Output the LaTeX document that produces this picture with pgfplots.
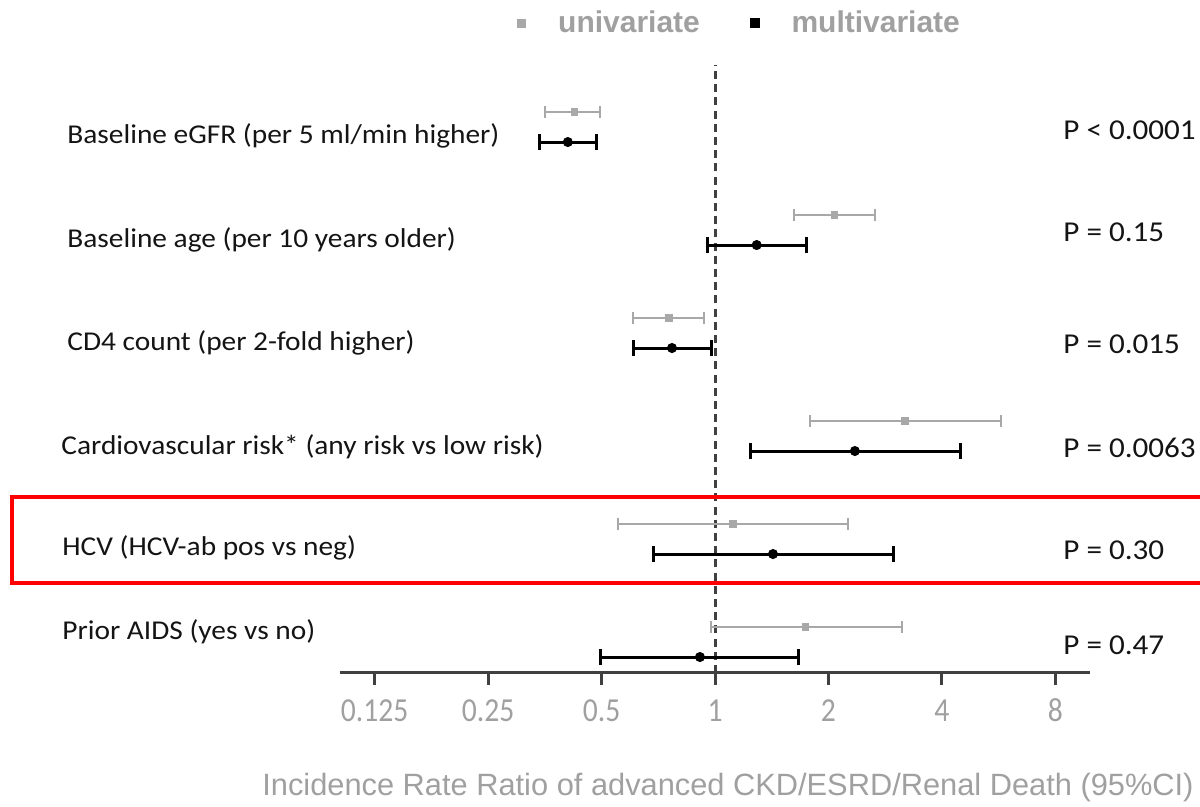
\documentclass[border=0pt]{standalone}
\usepackage{fontspec}
\setmainfont{Carlito}
\newfontfamily\labf[FakeStretch=1.08]{Carlito}
\newfontfamily\arialf{Liberation Sans}
\newfontfamily\xlabf{Liberation Sans}
\newfontfamily\tickf[FakeStretch=0.88]{Carlito}
\usepackage{pgfplots}
\pgfplotsset{compat=1.18}
\definecolor{ugray}{HTML}{A8A8A8}
\definecolor{tgray}{HTML}{A0A0A0}
\definecolor{axgray}{HTML}{404040}
\begin{document}
\begin{tikzpicture}
\useasboundingbox (0pt,0pt) rectangle (600pt,403.5pt);
\begin{axis}[
  at={(170pt,67pt)}, anchor=south west,
  width=375pt, height=304pt, scale only axis,
  xmode=log, log basis x=2,
  xmin=0.1012, xmax=9.88,
  ymin=-6.301, ymax=-0.398,
  axis x line*=bottom, axis y line=none,
  xtick={0.125,0.25,0.5,1,2,4,8},
  xticklabels={0.125,0.25,0.5,1,2,4,8},
  typeset ticklabels with strut,
  xminorticks=false,
  tick align=outside, major tick length=6pt,
  x tick style={line width=1.5pt, color=axgray},
  x axis line style={line width=1.5pt, color=axgray},
  x tick label style={font=\tickf\fontsize{16.8}{18}\selectfont, text=tgray, yshift=-2pt},
  clip=false,
  legend columns=2,
  legend style={draw=none, fill=none, at={(0.236,1.069)}, anchor=west,
    inner sep=0pt, nodes={inner sep=0pt, font=\arialf\bfseries\fontsize{15}{16}\selectfont, text=tgray},
    /tikz/every odd column/.append style={column sep=16pt},
    /tikz/every even column/.append style={column sep=25pt}},
]
\addlegendimage{legend image code/.code={\fill[ugray] (0pt,-2pt) rectangle (4pt,2pt);}}
\addlegendentry{univariate}
\addlegendimage{legend image code/.code={\fill[black] (0pt,-2.2pt) rectangle (4.4pt,2.2pt);}}
\addlegendentry{multivariate}

% reference line
\addplot[forget plot, axgray, line width=1.5pt, dash pattern=on 4pt off 2.6pt] coordinates {(1,-6.301) (1,-0.398)};

% univariate CIs
\addplot[forget plot, ugray, line width=1pt, mark=|, mark size=3pt] coordinates {(0.354,-0.854) (0.496,-0.854)};
\addplot[forget plot, ugray, line width=1pt, mark=|, mark size=3pt] coordinates {(1.62,-1.854) (2.66,-1.854)};
\addplot[forget plot, ugray, line width=1pt, mark=|, mark size=3pt] coordinates {(0.606,-2.854) (0.935,-2.854)};
\addplot[forget plot, ugray, line width=1pt, mark=|, mark size=3pt] coordinates {(1.79,-3.854) (5.74,-3.854)};
\addplot[forget plot, ugray, line width=1pt, mark=|, mark size=3pt] coordinates {(0.553,-4.854) (2.25,-4.854)};
\addplot[forget plot, ugray, line width=1pt, mark=|, mark size=3pt] coordinates {(0.975,-5.854) (3.13,-5.854)};
% multivariate CIs
\addplot[forget plot, black, line width=1.5pt, mark=|, mark size=3.8pt] coordinates {(0.343,-1.146) (0.486,-1.146)};
\addplot[forget plot, black, line width=1.5pt, mark=|, mark size=3.8pt] coordinates {(0.958,-2.146) (1.75,-2.146)};
\addplot[forget plot, black, line width=1.5pt, mark=|, mark size=3.8pt] coordinates {(0.606,-3.146) (0.976,-3.146)};
\addplot[forget plot, black, line width=1.5pt, mark=|, mark size=3.8pt] coordinates {(1.24,-4.146) (4.47,-4.146)};
\addplot[forget plot, black, line width=1.5pt, mark=|, mark size=3.8pt] coordinates {(0.685,-5.146) (2.97,-5.146)};
\addplot[forget plot, black, line width=1.5pt, mark=|, mark size=3.8pt] coordinates {(0.496,-6.146) (1.67,-6.146)};
% point estimates
\addplot[forget plot, only marks, mark=square*, mark size=1.6pt, ugray] coordinates {
(0.423,-0.854) (2.07,-1.854) (0.755,-2.854) (3.19,-3.854) (1.116,-4.854) (1.74,-5.854)};
\addplot[forget plot, only marks, mark=*, mark size=2.3pt, black] coordinates {
(0.407,-1.146) (1.29,-2.146) (0.769,-3.146) (2.35,-4.146) (1.425,-5.146) (0.912,-6.146)};
\end{axis}

\begin{scope}[x=0.5pt,y=0.5pt]
\begin{scope}[every node/.style={anchor=west, inner sep=0pt, font=\labf\fontsize{13.6}{16}\selectfont, text=black!92}]
\node at (67,807-136) {Baseline eGFR (per 5 ml/min higher)};
\node at (67,807-240) {Baseline age (per 10 years older)};
\node at (67,807-343) {CD4 count (per 2-fold higher)};
\node at (61,807-447) {Cardiovascular risk* (any risk vs low risk)};
\node at (62,807-548) {HCV (HCV-ab pos vs neg)};
\node at (62,807-632) {Prior AIDS (yes vs no)};
\end{scope}
\begin{scope}[every node/.style={anchor=west, inner sep=0pt, font=\labf\fontsize{14.4}{16}\selectfont, text=black!92}]
\node at (1063,807-130) {P < 0.0001};
\node at (1063,807-232) {P = 0.15};
\node at (1063,807-344) {P = 0.015};
\node at (1063,807-448) {P = 0.0063};
\node at (1063,807-550) {P = 0.30};
\node at (1063,807-645) {P = 0.47};
\end{scope}
\node[font=\xlabf\fontsize{15.4}{17}\selectfont, text=tgray, inner sep=0pt] at (728,807-788) {Incidence Rate Ratio of advanced CKD/ESRD/Renal Death (95\%CI)};
\draw[red, line width=2pt] (12,807-497) rectangle (1212,807-583);
\end{scope}
\end{tikzpicture}
\end{document}
